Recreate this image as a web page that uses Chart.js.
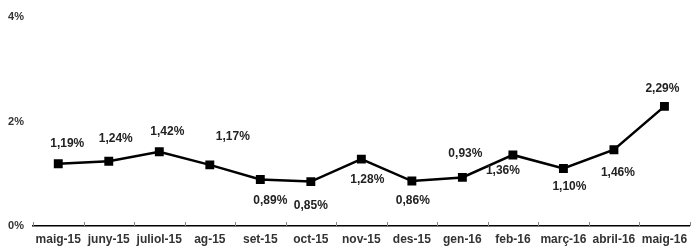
<!DOCTYPE html>
<html>
<head>
<meta charset="utf-8">
<script src="https://cdn.jsdelivr.net/npm/chart.js@4/dist/chart.umd.min.js"></script>
<style>
  html, body { margin: 0; padding: 0; background: #fff; }
  #wrap { width: 696px; height: 248px; }
</style>
</head>
<body>
<div id="wrap"><canvas id="myChart"></canvas></div>
<script>
// Dades
const mesos = ['maig-15', 'juny-15', 'juliol-15', 'ag-15', 'set-15', 'oct-15', 'nov-15',
  'des-15', 'gen-16', 'feb-16', 'març-16', 'abril-16', 'maig-16']
const valors = [1.19, 1.24, 1.42, 1.17, 0.89, 0.85, 1.28, 0.86, 0.93, 1.36, 1.10, 1.46, 2.29]
const ticksY = [0, 2, 4]

// posicio de cada etiqueta respecte del punt (px)
const desplLabels = [
  [9, -20], [7, -23], [8, -20], [23, -28], [10, 21], [0, 24], [6, 21],
  [1, 20], [3, -24], [-10, 16], [6, 18], [4, 23], [-2, -18]
]

const fontFam = '"Liberation Sans", Arial, sans-serif'

const etiquetes = {
  id: 'etiquetes',
  afterDatasetsDraw(chart) {
    const ctx = chart.ctx
    const meta = chart.getDatasetMeta(0)
    ctx.save()
    ctx.font = 'bold 12px ' + fontFam
    ctx.fillStyle = '#222'
    ctx.textAlign = 'center'
    ctx.textBaseline = 'middle'
    meta.data.forEach((pt, i) => {
      const d = desplLabels[i]
      ctx.fillText(valors[i].toFixed(2).replace('.', ',') + '%', pt.x + d[0], pt.y + d[1])
    })
    ctx.restore()
  }
}

// marques de l'eix x cap amunt
const marquesX = {
  id: 'marquesX',
  beforeDatasetsDraw(chart) {
    const ctx = chart.ctx
    const x = chart.scales.x
    const bottom = chart.chartArea.bottom
    ctx.save()
    ctx.strokeStyle = '#888'
    ctx.lineWidth = 1
    for (let i = 0; i <= mesos.length; i++) {
      const px = Math.round(x.getPixelForValue(i - 0.5)) + 0.5
      ctx.beginPath()
      ctx.moveTo(px, bottom - 4)
      ctx.lineTo(px, bottom)
      ctx.stroke()
    }
    ctx.restore()
  }
}

const ctx = document.getElementById('myChart')
const myChart = new Chart(ctx, {
  type: 'line',
  data: {
    labels: mesos,
    datasets: [{
      data: valors,
      borderColor: '#000',
      borderWidth: 2.5,
      tension: 0,
      pointStyle: 'rect',
      pointRadius: 6.3,
      pointBackgroundColor: '#000',
      pointBorderColor: '#000',
      pointBorderWidth: 0
    }]
  },
  options: {
    responsive: true,
    maintainAspectRatio: false,
    animation: false,
    events: [],
    layout: { padding: { top: 17, right: 0, bottom: 0, left: 0 } },
    plugins: {
      legend: { display: false },
      tooltip: { enabled: false }
    },
    scales: {
      x: {
        offset: true,
        grid: { display: false, drawTicks: false },
        border: { display: true, color: '#000', width: 1.5 },
        ticks: {
          color: '#333',
          padding: 6,
          maxRotation: 0,
          autoSkip: false,
          font: { family: fontFam, size: 12, weight: 'bold' }
        },
        afterFit(scale) { scale.height = 22 }
      },
      y: {
        min: 0,
        max: 4,
        afterBuildTicks(scale) { scale.ticks = ticksY.map(v => ({ value: v })) },
        grid: { display: false, drawTicks: false },
        border: { display: false },
        ticks: {
          color: '#333',
          padding: 9,
          callback: v => v + '%',
          font: { family: fontFam, size: 11, weight: 'bold' }
        },
        afterFit(scale) { scale.width = 33 }
      }
    }
  },
  plugins: [marquesX, etiquetes]
})
</script>
</body>
</html>
